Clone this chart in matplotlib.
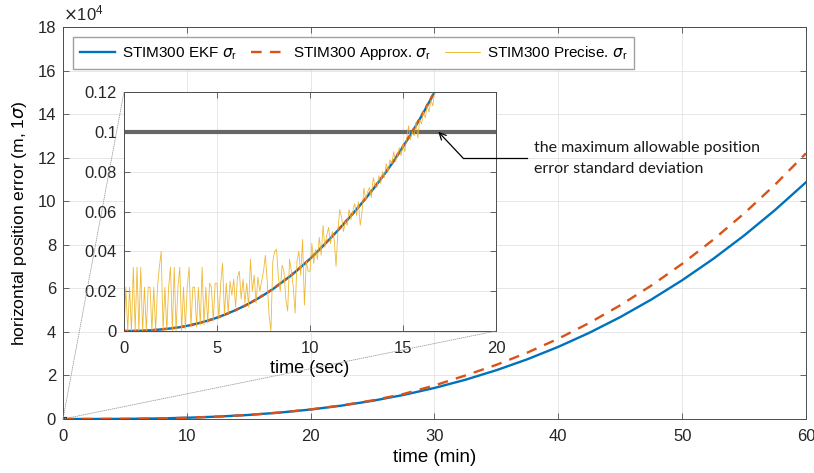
import numpy as np
import matplotlib
matplotlib.use("Agg")
import matplotlib.pyplot as plt
from matplotlib.patches import ConnectionPatch
from matplotlib.ticker import FuncFormatter

BLUE, ORANGE, YELLOW = "#0072BD", "#D95319", "#EDB120"
GRID, SPINE = "#E3E3E3", "#4D4D4D"
plt.rcParams.update({"font.family": ["Liberation Sans", "DejaVu Sans"],
                     "font.size": 12, "mathtext.fontset": "dejavusans"})

# long run, minutes -> horizontal error in units of 1e4 m
t_min = [0, 2.5, 5, 7.5, 10, 12.5, 15, 17.5, 20, 22.5, 25, 27.5, 30,
         32.5, 35, 37.5, 40, 42.5, 45, 47.5, 50, 52.5, 55, 57.5, 60]
ekf_min = [0, 0.001, 0.007, 0.024, 0.057, 0.11, 0.187, 0.295, 0.435, 0.615, 0.836, 1.105, 1.426,
           1.803, 2.241, 2.743, 3.314, 3.958, 4.679, 5.483, 6.371, 7.35, 8.424, 9.596, 10.87]
approx_min = [0, 0.001, 0.007, 0.024, 0.057, 0.11, 0.188, 0.298, 0.44, 0.625, 0.855, 1.15, 1.54,
              2.0, 2.488, 3.049, 3.688, 4.411, 5.222, 6.125, 7.125, 8.229, 9.438, 10.76, 12.2]

# first seconds, metres
t_sec = np.arange(0, 17.01, 0.5)
ekf_sec = [0, 0.00003, 0.00014, 0.0004, 0.0008, 0.0013, 0.0019, 0.0028, 0.0039, 0.0052,
           0.0067, 0.0085, 0.0105, 0.0127, 0.0152, 0.018, 0.021, 0.0245, 0.028, 0.032,
           0.0362, 0.0408, 0.0456, 0.0505, 0.0557, 0.061, 0.0666, 0.0725, 0.0787, 0.0853,
           0.0925, 0.1, 0.108, 0.1165, 0.125]
approx_sec = [0, 0.00003, 0.00014, 0.0004, 0.0008, 0.0013, 0.0019, 0.0028, 0.0039, 0.0052,
              0.0067, 0.0085, 0.0105, 0.0127, 0.0153, 0.0181, 0.0211, 0.0246, 0.0281, 0.0321,
              0.0363, 0.0409, 0.0457, 0.0507, 0.0559, 0.0612, 0.0668, 0.0727, 0.0789, 0.0856,
              0.0928, 0.1003, 0.1083, 0.1168, 0.1253]
precise_sec = [
    0.0, 0.022, 0.0, 0.022, 0.0, 0.032, 0.0, 0.032, 0.0, 0.032,
    0.0, 0.022, 0.0, 0.022, 0.022, 0.0, 0.022, 0.0, 0.022, 0.032,
    0.04, 0.0, 0.022, 0.0, 0.022, 0.032, 0.0, 0.032, 0.0, 0.022,
    0.032, 0.0, 0.022, 0.001, 0.022, 0.032, 0.002, 0.022, 0.022, 0.002,
    0.022, 0.003, 0.032, 0.003, 0.022, 0.004, 0.024, 0.022, 0.005, 0.024,
    0.024, 0.006, 0.024, 0.034, 0.008, 0.024, 0.009, 0.025, 0.018, 0.026,
    0.012, 0.027, 0.03, 0.016, 0.026, 0.014, 0.024, 0.012, 0.036, 0.02,
    0.028, 0.014, 0.027, 0.02, 0.025, 0.03, 0.038, 0.025, 0.008, 0.0,
    0.035, 0.04, 0.041, 0.027, 0.02, 0.033, 0.03, 0.016, 0.01, 0.036,
    0.03, 0.022, 0.009, 0.035, 0.04, 0.028, 0.046, 0.013, 0.035, 0.03,
    0.03, 0.044, 0.034, 0.041, 0.036, 0.047, 0.038, 0.053, 0.042, 0.048,
    0.052, 0.044, 0.05, 0.046, 0.0325, 0.05, 0.061, 0.057, 0.05, 0.055,
    0.053, 0.061, 0.056, 0.06, 0.064, 0.058, 0.065, 0.053, 0.06, 0.0717,
    0.066, 0.07, 0.072, 0.067, 0.077, 0.073, 0.072, 0.078, 0.074, 0.08,
    0.077, 0.084, 0.08, 0.086, 0.084, 0.09, 0.085, 0.088, 0.092, 0.088,
    0.094, 0.09, 0.097, 0.103, 0.096, 0.1, 0.098, 0.105, 0.097, 0.106,
    0.104, 0.11, 0.107, 0.113, 0.11, 0.116, 0.113, 0.12, 0.122]
t_precise = np.arange(len(precise_sec)) * 0.1

limit_m = 0.1          # maximum allowable position error std
limit_span_sec = [0, 20]


def matlab_axes(ax):
    ax.tick_params(direction="in", top=True, right=True, length=4, width=0.6,
                   color=SPINE, labelcolor="#262626", pad=5)
    ax.tick_params(axis="x", pad=7)
    for s in ax.spines.values():
        s.set_color(SPINE); s.set_linewidth(0.7)
    ax.grid(True, color=GRID, lw=0.6)
    ax.set_axisbelow(True)


fig = plt.figure(figsize=(8.14, 4.73), dpi=100)
ax = fig.add_axes([63/814, 1-419/473, 743/814, 392/473])
matlab_axes(ax)
l1, = ax.plot(t_min, ekf_min, color=BLUE, lw=1.7)
l2, = ax.plot(t_min, approx_min, color=ORANGE, lw=1.7, ls=(0, (4.5, 3.5)))
l3, = ax.plot(t_precise/60, np.array(precise_sec)/1e4, color=YELLOW, lw=0.6)
ax.plot(np.array(limit_span_sec)/60, [limit_m/1e4]*2, color="#333333", lw=3, solid_capstyle="butt")
ax.set_xlim(0, 60); ax.set_ylim(0, 18)
ax.set_xticks(range(0, 61, 10)); ax.set_yticks(range(0, 19, 2))
ax.set_xlabel("time (min)", fontsize=13.5, labelpad=4)
ax.set_ylabel(r"horizontal position error (m, 1$\sigma$)", fontsize=12.6, labelpad=6)
ax.text(0, 1.008, r"$\times\mathregular{10^{4}}$", transform=ax.transAxes,
        ha="left", va="bottom", fontsize=12, color="#262626")

lab = r"$\sigma_{\mathregular{r}}$"
ax.legend([l1, l2, l3], ["STIM300 EKF " + lab, "STIM300 Approx. " + lab, "STIM300 Precise. " + lab],
          ncol=3, loc="upper left", bbox_to_anchor=(0.0135, 0.9745), borderaxespad=0,
          fontsize=11, handlelength=2.3, handletextpad=0.45, columnspacing=0.9,
          fancybox=False, edgecolor="#A0A0A0", framealpha=1, borderpad=0.45)

# zoomed view of the first 20 seconds
axi = fig.add_axes([124/814, 1-331/473, 372/814, 239/473])
matlab_axes(axi)
axi.plot(t_sec, ekf_sec, color=BLUE, lw=1.7)
axi.plot(t_sec, approx_sec, color=ORANGE, lw=1.7, ls=(0, (2, 2)))
axi.plot(t_precise, precise_sec, color=YELLOW, lw=0.6, alpha=0.9)
axi.plot(limit_span_sec, [limit_m]*2, color="#666666", lw=3, solid_capstyle="butt", zorder=1.5)
axi.set_xlim(0, 20); axi.set_ylim(0, 0.12)
axi.set_xticks(range(0, 21, 5)); axi.set_yticks(np.arange(0, 0.121, 0.02))
axi.yaxis.set_major_formatter(FuncFormatter(lambda v, p: f"{v:g}"))
axi.set_xlabel("time (sec)", fontsize=13, labelpad=3)

for corner in [(0, 1), (1, 0)]:
    fig.add_artist(ConnectionPatch(xyA=(0, 0), coordsA=ax.transData,
                                   xyB=corner, coordsB=axi.transAxes,
                                   color="#9A9A9A", lw=0.6, ls=(0, (1, 1.5)), zorder=0.5))

# note on the threshold
note_font = ["Lato", "DejaVu Sans"]
axi.annotate("", xy=(16.9, limit_m), xycoords="data",
             xytext=(463/814, 1-158/473), textcoords="figure fraction",
             arrowprops=dict(arrowstyle="->", color="black", lw=0.9, shrinkA=0, shrinkB=0),
             annotation_clip=False)
fig.add_artist(plt.Line2D([463/814, 527/814], [1-158/473]*2, color="black", lw=0.9))
fig.text(534/814, 1-148/473, "the maximum allowable position", family=note_font,
         fontsize=11.5, va="center", ha="left", color="#1A1A1A")
fig.text(534/814, 1-169/473, "error standard deviation", family=note_font,
         fontsize=11.5, va="center", ha="left", color="#1A1A1A")

fig.savefig("out.png", dpi=100)
